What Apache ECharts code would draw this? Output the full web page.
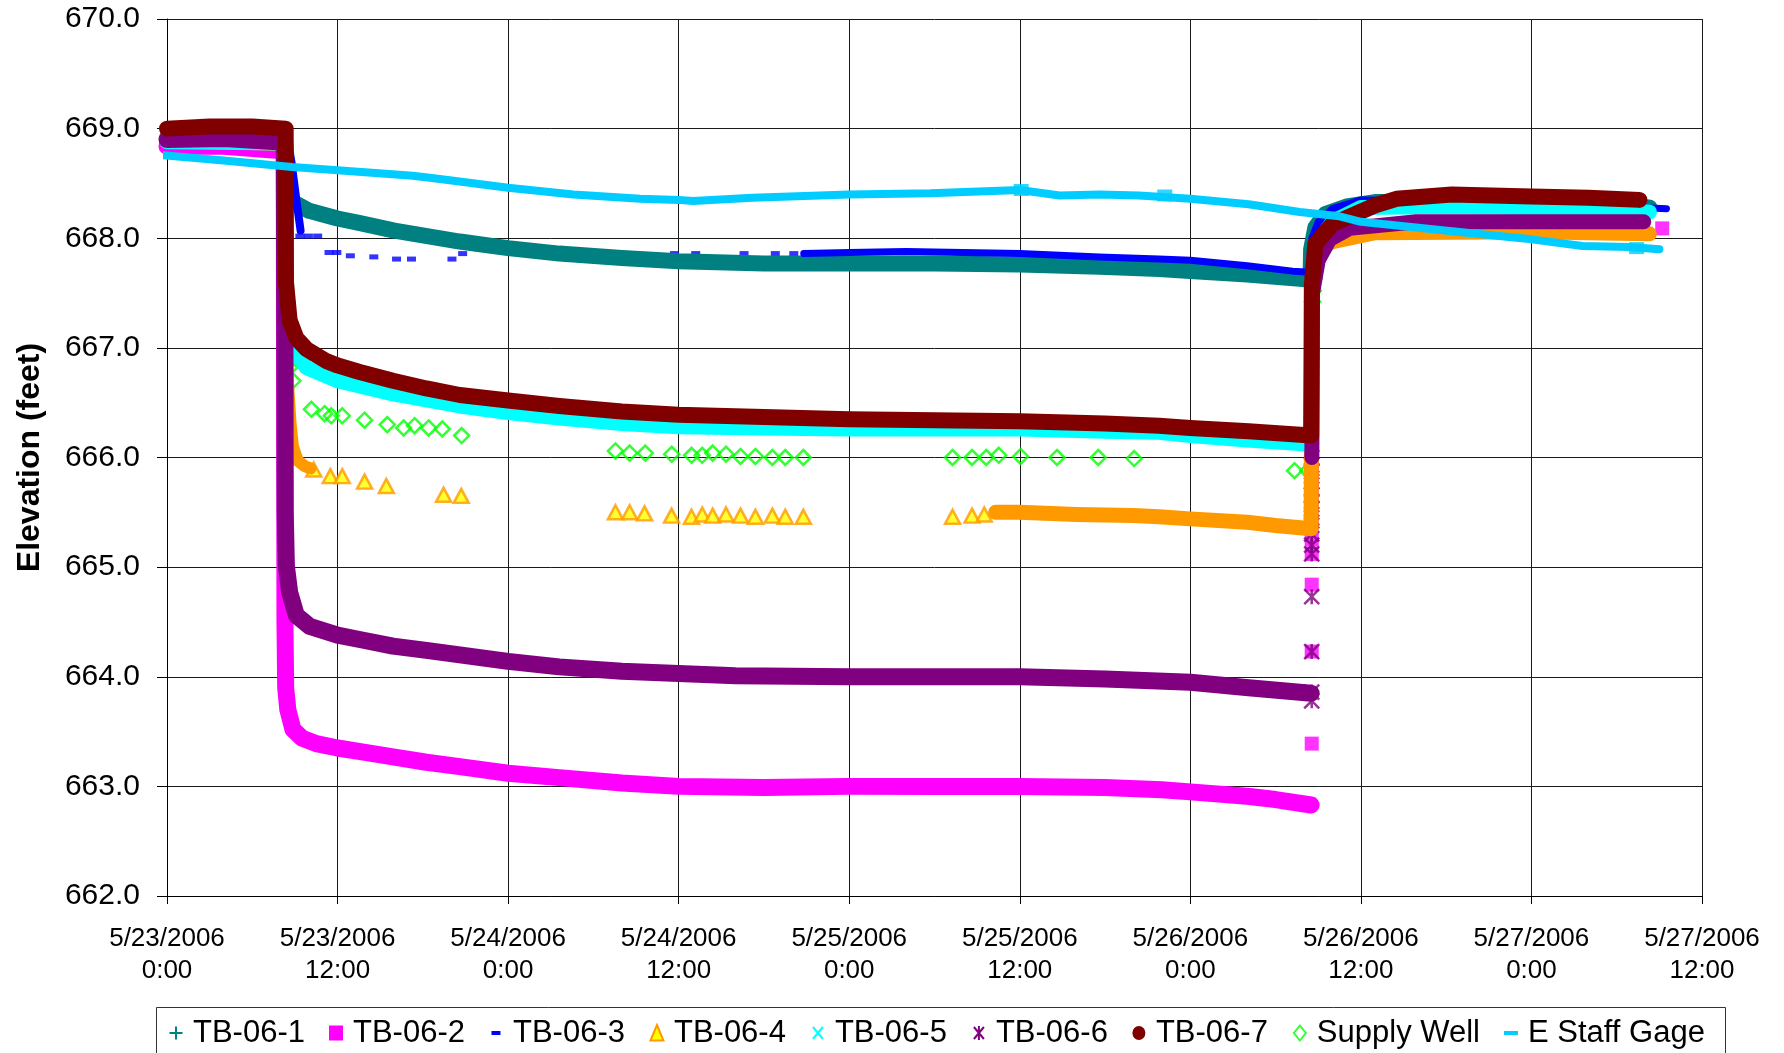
<!DOCTYPE html>
<html>
<head>
<meta charset="utf-8">
<script src="https://cdn.jsdelivr.net/npm/echarts/dist/echarts.min.js"></script>
<style>
html,body{margin:0;padding:0;background:#ffffff;}
#chart{width:1784px;height:1053px;}
</style>
</head>
<body>
<div id="chart"></div>
<script>
// ---- x axis: hours since 5/23/2006 0:00 ----
const tickLabels = ['5/23/2006\n0:00','5/23/2006\n12:00','5/24/2006\n0:00','5/24/2006\n12:00','5/25/2006\n0:00',
  '5/25/2006\n12:00','5/26/2006\n0:00','5/26/2006\n12:00','5/27/2006\n0:00','5/27/2006\n12:00'];
const seriesNames = ['TB-06-1','TB-06-2','TB-06-3','TB-06-4','TB-06-5','TB-06-6','TB-06-7','Supply Well','E Staff Gage'];

// ---- TB-06-1 (continuous) ----
const tb1Band = [[0,668.92],[8.3,668.9],[8.6,668.45],[8.86,668.33],[10,668.25],[12,668.18],[13.5,668.14],[16,668.07],
  [20.6,667.97],[24,667.91],[27.6,667.86],[32,667.82],[36,667.79],[42,667.77],[48,667.77],[54,667.77],[60,667.76],
  [65.6,667.74],[69.8,667.72],[72,667.70],[76,667.67],[79.7,667.63],[80.45,667.62],[80.5,667.9],[80.8,668.1],
  [81.5,668.22],[83,668.29],[85,668.33],[90,668.33],[96,668.32],[100,668.30],[104.3,668.28]];

// ---- TB-06-2 ----
const tb2Band = [[0,668.84],[4,668.84],[7.9,668.80],[8.25,668.78],[8.28,666.0],[8.3,664.5],[8.35,663.9],[8.5,663.7],
  [8.86,663.52],[9.5,663.44],[10.5,663.39],[12,663.35],[13.5,663.32],[15.9,663.27],[18.25,663.22],[20.6,663.18],
  [24,663.12],[27.6,663.08],[32,663.03],[36,663.0],[42,662.99],[48,663.0],[54,663.0],[60,663.0],[66,662.99],
  [70,662.97],[72,662.95],[76,662.91],[78,662.88],[80.5,662.83]];
const tb2Recovery = [[80.55,665.7],[80.55,667.5],[81.0,667.9],[82,668.0],[84,668.05],[90,668.08],[96,668.08],[103.9,668.08]];
const tb2Points = [[80.54,663.39],[80.54,664.23],[80.54,664.84],[80.54,665.12],[80.54,665.25],[80.54,665.42],
  [80.54,665.57],[105.2,668.09]];

// ---- TB-06-3 ----
const tb3Start = [[0,668.95],[8.3,668.95],[8.75,668.7],[9.1,668.35],[9.4,668.07]];
const tb3Dashes = [[9.35,668.02],[9.95,668.02],[10.6,668.02],[11.4,667.87],[11.95,667.87],[12.9,667.84],[14.55,667.83],
  [16.15,667.81],[17.2,667.81],[20.05,667.81],[20.8,667.86],
  [31.8,667.86],[32.7,667.86],[35.7,667.86],[37.2,667.86],[40.6,667.86],[42.8,667.86],[44.1,667.86]];
const tb3Band = [[44.8,667.86],[48,667.87],[52,667.88],[56,667.87],[60,667.86],[65.6,667.83],[69.8,667.81],[72,667.80],
  [76,667.75],[79.2,667.70],[80.45,667.69],[80.55,668.0],[81.0,668.15],[82,668.27],[84,668.35],[90,668.34],
  [96,668.32],[100,668.30],[105.5,668.27]];

// ---- TB-06-4 ----
const tb4Start = [[0,668.88],[8.3,668.85],[8.35,667.3],[8.5,666.7],[8.7,666.3],[8.86,666.1],[9.2,665.97],[9.7,665.92],[10.1,665.9]];
const tb4Triangles = [[10.32,665.89],[11.49,665.83],[12.33,665.83],[13.9,665.78],[15.43,665.74],[19.46,665.66],[20.7,665.65],
  [31.55,665.50],[32.55,665.50],[33.6,665.49],[35.5,665.47],[36.9,665.46],[37.66,665.48],[38.39,665.47],[39.33,665.48],
  [40.35,665.47],[41.4,665.46],[42.59,665.47],[43.5,665.46],[44.77,665.46],[55.27,665.46],[56.64,665.47],[57.5,665.48]];
const tb4Band = [[58.3,665.50],[60,665.50],[64,665.48],[68,665.47],[69.8,665.46],[72,665.44],[76,665.41],[78,665.38],
  [80.5,665.35],[80.55,667.5],[81,667.9],[82,667.97],[85,668.05],[96,668.06],[104.3,668.04]];

// ---- TB-06-5 ----
const tb5Band = [[0,668.88],[8.3,668.87],[8.4,667.6],[8.6,667.2],[8.86,667.0],[9.8,666.82],[12,666.70],[15.9,666.58],
  [20.6,666.47],[24,666.41],[27.6,666.36],[32,666.31],[36,666.28],[42,666.27],[48,666.26],[54,666.26],[60,666.26],
  [66,666.24],[69.8,666.23],[72,666.20],[76,666.16],[80.5,666.12],[80.55,667.6],[81,667.95],[82,668.15],[84,668.28],
  [90,668.29],[96,668.28],[104.3,668.24]];

// ---- TB-06-6 ----
const tb6Band = [[0,668.90],[4,668.91],[7.8,668.88],[8.25,668.85],[8.3,667.0],[8.32,665.5],[8.4,665.01],[8.63,664.77],
  [9.1,664.56],[10.04,664.46],[12,664.38],[13.55,664.34],[15.9,664.28],[18.25,664.24],[20.6,664.20],[24,664.14],
  [27.6,664.09],[32,664.05],[36,664.03],[40,664.01],[48,664.0],[54,664.0],[60,664.0],[66,663.98],[72,663.95],
  [76.1,663.90],[80.5,663.85]];
const tb6Recovery = [[80.55,666.0],[80.6,667.5],[81,667.8],[81.8,667.99],[83.2,668.09],[87.9,668.15],[96,668.15],[103.9,668.15]];
const tb6Points = [[80.54,663.78],[80.54,663.86],[80.54,664.23],[80.54,664.73],[80.54,665.12],[80.54,665.2],[80.54,665.3],
  [80.54,665.38],[80.54,665.45],[80.54,665.53],[80.54,665.6],[80.54,665.66],[80.54,665.71],[80.54,665.78],[80.54,665.87],
  [80.54,665.93],[80.54,666.0]];

// ---- TB-06-7 ----
const tb7Band = [[0,669.0],[3,669.02],[6,669.02],[8.35,669.0],[8.37,667.6],[8.63,667.25],[9.1,667.09],[9.8,666.99],
  [11.2,666.88],[12,666.84],[13.55,666.78],[15.9,666.70],[18.25,666.63],[20.6,666.57],[24,666.52],[27.6,666.47],
  [32,666.42],[36,666.39],[42,666.37],[48,666.35],[54,666.34],[60,666.33],[66,666.31],[69.8,666.29],[72,666.27],
  [76.1,666.24],[80.5,666.20],[80.55,667.58],[80.8,667.95],[82,668.13],[85,668.30],[86.5,668.36],[90.4,668.40],
  [96,668.38],[100,668.37],[103.6,668.35]];

// ---- Supply Well ----
const supplyWell = [[7.81,668.81],[8.51,666.95],[8.63,666.82],[8.86,666.70],[10.16,666.44],[11.09,666.40],[11.56,666.38],
  [12.33,666.38],[13.9,666.34],[15.5,666.30],[16.65,666.27],[17.42,666.29],[18.41,666.27],[19.37,666.26],[20.73,666.20],
  [31.55,666.06],[32.55,666.04],[33.65,666.04],[35.51,666.03],[36.91,666.02],[37.66,666.02],[38.39,666.04],[39.33,666.03],
  [40.35,666.01],[41.4,666.01],[42.59,666.0],[43.5,666.0],[44.77,666.0],[55.27,666.0],[56.64,666.0],[57.64,666.0],
  [58.52,666.02],[60.06,666.01],[62.62,666.0],[65.52,666.0],[68.05,665.99],[79.33,665.88],[80.26,665.88],
  [80.6,667.42],[80.65,667.52],[80.7,667.63],[80.8,667.73],[80.9,667.83],[81.1,667.85],[81.6,667.95]];

// ---- E Staff Gage ----
const staffGage = [[-0.5,668.76],[4,668.71],[8.8,668.65],[12,668.62],[17.3,668.57],[19.2,668.54],[24,668.46],[28.6,668.40],
  [33.3,668.36],[36,668.35],[37,668.34],[41.2,668.37],[48,668.40],[53.7,668.41],[60,668.44],[62.8,668.39],[65.6,668.40],
  [68.4,668.39],[72,668.36],[76.1,668.31],[79.7,668.24],[82.5,668.20],[84,668.15],[89.9,668.07],[96,667.99],
  [99.6,667.93],[102.9,667.92],[105,667.90]];
const staffGageMarks = [[60.1,668.44],[70.2,668.39],[103.4,667.91]];

// ---------------- rendering ----------------
const FONT = '"Liberation Sans", Arial, Helvetica, sans-serif';
const C = {
  tb1:'#008080', tb2:'#FF00FF', tb3:'#0000FF', tb4:'#FF9900', tb4fill:'#FFFF00', tb5:'#00FFFF',
  tb6:'#800080', tb7:'#800000', well:'#00FF00', gage:'#00CCFF'
};

function band(name, data, color, width) {
  return { type:'line', name, data, symbol:'none', showSymbol:false, clip:false, silent:true, animation:false,
    lineStyle:{ color, width, cap:'round', join:'round' }, itemStyle:{ color } };
}
function marks(name, data, symbol, size, style) {
  return { type:'scatter', name, data, symbol, symbolSize:size, clip:false, silent:true, animation:false, itemStyle:style };
}

const ICON = {
  plus:'path://M0,0M24,24M11,5.5h2v5.5h5.5v2h-5.5v5.5h-2v-5.5h-5.5v-2h5.5z',
  square:'path://M0,0M24,24M5,4.5h14v15h-14z',
  dashS:'path://M0,0M24,24M7.5,10h9v4h-9z',
  tri:'path://M0,0M24,24M12,4L18.5,19.5L5.5,19.5z',
  cross:'path://M0,0M24,24M7,6L17,18M17,6L7,18',
  ast:'path://M0,0M24,24M7,6L17,18M17,6L7,18M12,5L12,19',
  circle:'path://M0,0M24,24M5.5,12a6.5,7 0 1,0 13,0a6.5,7 0 1,0 -13,0z',
  diamond:'path://M0,0M24,24M12,4.5L18,12L12,19.5L6,12z',
  dashL:'path://M0,0M24,24M5,10h14v4h-14z'
};
const NONE = 'rgba(0,0,0,0)';

const legendData = [
  { name:seriesNames[0], icon:ICON.plus, itemStyle:{ color:C.tb1, borderWidth:0 } },
  { name:seriesNames[1], icon:ICON.square, itemStyle:{ color:C.tb2, borderWidth:0 } },
  { name:seriesNames[2], icon:ICON.dashS, itemStyle:{ color:C.tb3, borderWidth:0 } },
  { name:seriesNames[3], icon:ICON.tri, itemStyle:{ color:C.tb4fill, borderColor:C.tb4, borderWidth:2 } },
  { name:seriesNames[4], icon:ICON.cross, itemStyle:{ color:NONE, borderColor:C.tb5, borderWidth:2 } },
  { name:seriesNames[5], icon:ICON.ast, itemStyle:{ color:NONE, borderColor:C.tb6, borderWidth:2 } },
  { name:seriesNames[6], icon:ICON.circle, itemStyle:{ color:C.tb7, borderWidth:0 } },
  { name:seriesNames[7], icon:ICON.diamond, itemStyle:{ color:NONE, borderColor:C.well, borderWidth:2 } },
  { name:seriesNames[8], icon:ICON.dashL, itemStyle:{ color:C.gage, borderWidth:0 } }
];

const series = [
  band(seriesNames[0], tb1Band, C.tb1, 16),
  band(seriesNames[1], tb2Band, C.tb2, 17),
  band(seriesNames[1], tb2Recovery, C.tb2, 14),
  marks(seriesNames[1], tb2Points, 'rect', [14,14], { color:C.tb2 }),
  band(seriesNames[2], tb3Start, C.tb3, 8),
  marks(seriesNames[2], tb3Dashes, 'rect', [9,5], { color:C.tb3 }),
  band(seriesNames[2], tb3Band, C.tb3, 7),
  band(seriesNames[3], tb4Start, C.tb4, 12),
  marks(seriesNames[3], tb4Triangles, 'triangle', [15,14], { color:C.tb4fill, borderColor:C.tb4, borderWidth:2.5 }),
  band(seriesNames[3], tb4Band, C.tb4, 15),
  band(seriesNames[4], tb5Band, C.tb5, 15),
  band(seriesNames[5], tb6Band, C.tb6, 17),
  band(seriesNames[5], tb6Recovery, C.tb6, 15),
  marks(seriesNames[5], tb6Points, 'path://M0,0L10,10M10,0L0,10M5,0L5,10', [15,15], { color:NONE, borderColor:C.tb6, borderWidth:2.5 }),
  band(seriesNames[6], tb7Band, C.tb7, 16),
  marks(seriesNames[7], supplyWell, 'diamond', [15,15], { color:NONE, borderColor:C.well, borderWidth:2.5 }),
  band(seriesNames[8], staffGage, C.gage, 8),
  marks(seriesNames[8], staffGageMarks, 'rect', [15,12], { color:C.gage })
];

const chart = echarts.init(document.getElementById('chart'), null, { renderer:'canvas' });
chart.setOption({
  backgroundColor:'#ffffff',
  animation:false,
  grid:{ left:167, right:82, top:19, bottom:157, containLabel:false },
  xAxis:{
    type:'value', min:0, max:108, interval:12,
    axisLine:{ show:true, onZero:false, lineStyle:{ color:'#000', width:1 } },
    axisTick:{ show:true, inside:false, length:8, lineStyle:{ color:'#000' } },
    splitLine:{ show:true, lineStyle:{ color:'#1a1a1a', width:1 } },
    axisLabel:{ formatter:(v) => tickLabels[Math.round(v / 12)], fontSize:26, lineHeight:32, margin:27,
      color:'#000', fontFamily:FONT, showMinLabel:true, showMaxLabel:true }
  },
  yAxis:{
    type:'value', min:662, max:670, interval:1,
    name:'Elevation (feet)', nameLocation:'middle', nameGap:121,
    nameTextStyle:{ fontSize:32, fontWeight:'bold', color:'#000', fontFamily:FONT },
    axisLine:{ show:true, lineStyle:{ color:'#000', width:1 } },
    axisTick:{ show:true, inside:false, length:10, lineStyle:{ color:'#000' } },
    splitLine:{ show:true, lineStyle:{ color:'#1a1a1a', width:1 } },
    axisLabel:{ formatter:(v) => v.toFixed(1), fontSize:30, margin:27, color:'#000', fontFamily:FONT }
  },
  legend:{
    show:true, selectedMode:false, orient:'horizontal',
    left:164, top:1016, padding:0, itemWidth:24, itemHeight:24, itemGap:19,
    textStyle:{ fontSize:31, lineHeight:34, color:'#000', fontFamily:FONT },
    data:legendData
  },
  graphic:[{
    type:'rect', silent:true, z:-1,
    shape:{ x:156.5, y:1007.5, width:1569, height:80 },
    style:{ fill:'#fff', stroke:'#333', lineWidth:1 }
  }],
  series
});
</script>
</body>
</html>
